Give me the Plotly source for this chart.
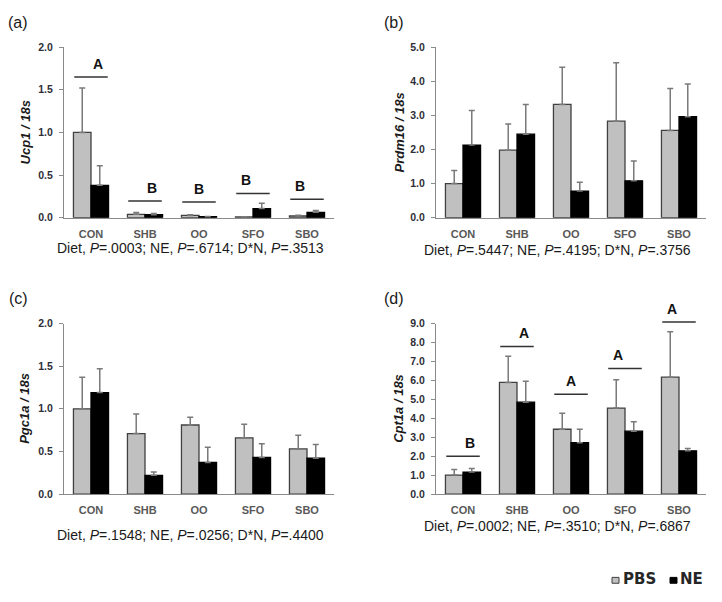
import plotly.graph_objects as go

W, H = 722, 602

categories = ["CON", "SHB", "OO", "SFO", "SBO"]

# Panel (a) Ucp1 / 18s
a_pbs = [1.00, 0.04, 0.027, 0.008, 0.02]
a_pbs_err = [0.52, 0.02, 0.008, 0.004, 0.01]
a_ne = [0.38, 0.035, 0.012, 0.107, 0.063]
a_ne_err = [0.23, 0.015, 0.003, 0.063, 0.022]
a_letters = ["A", "B", "B", "B", "B"]
a_letter_y = [1.65, 0.196, 0.184, 0.284, 0.215]

# Panel (b) Prdm16 / 18s
b_pbs = [1.00, 1.98, 3.32, 2.83, 2.56]
b_pbs_err = [0.38, 0.77, 1.09, 1.71, 1.23]
b_ne = [2.13, 2.45, 0.78, 1.08, 2.96]
b_ne_err = [1.01, 0.87, 0.26, 0.58, 0.96]

# Panel (c) Pgc1a / 18s
c_pbs = [1.00, 0.71, 0.81, 0.66, 0.53]
c_pbs_err = [0.37, 0.23, 0.09, 0.16, 0.16]
c_ne = [1.19, 0.22, 0.37, 0.43, 0.42]
c_ne_err = [0.28, 0.04, 0.18, 0.16, 0.16]

# Panel (d) Cpt1a / 18s
d_pbs = [1.00, 5.89, 3.42, 4.54, 6.17]
d_pbs_err = [0.30, 1.38, 0.85, 1.49, 2.40]
d_ne = [1.16, 4.85, 2.71, 3.32, 2.28]
d_ne_err = [0.19, 1.11, 0.71, 0.50, 0.12]
d_letters = ["B", "A", "A", "A", "A"]
d_letter_y = [2.0, 7.79, 5.27, 6.63, 9.08]

captions = [
    "Diet, <i>P</i>=.0003; NE, <i>P</i>=.6714; D*N, <i>P</i>=.3513",
    "Diet, <i>P</i>=.5447; NE, <i>P</i>=.4195; D*N, <i>P</i>=.3756",
    "Diet, <i>P</i>=.1548; NE, <i>P</i>=.0256; D*N, <i>P</i>=.4400",
    "Diet, <i>P</i>=.0002; NE, <i>P</i>=.3510; D*N, <i>P</i>=.6867",
]
ytitles = ["Ucp1 / 18s", "Prdm16 / 18s", "Pgc1a / 18s", "Cpt1a / 18s"]
panel_labels = ["(a)", "(b)", "(c)", "(d)"]
y_ranges = [[0, 2], [0, 5], [0, 2], [0, 9]]
y_dticks = [0.5, 1, 0.5, 1]

# ---- styling ----
FONT = "Liberation Sans, Arial, sans-serif"
LEG_FONT = "DejaVu Sans, sans-serif"
PBS_FILL = "#c0c0c0"
PBS_LINE = "#404040"
NE_FILL = "#000000"
ERR_COL = "#7a7a7a"
AXIS_COL = "#8a8a8a"
HALF_LINE = 0.31  # half length of letter-group line, in category units


def px_x(p):
    return p / W


def px_y(p):
    return 1 - p / H


x_domains = [[64 / W, 334 / W], [436 / W, 706 / W], [64 / W, 334 / W], [436 / W, 706 / W]]
y_domains = [[px_y(216), px_y(42)], [px_y(216), px_y(42)], [px_y(498), px_y(324)], [px_y(498), px_y(324)]]

panels = [
    (a_pbs, a_pbs_err, a_ne, a_ne_err),
    (b_pbs, b_pbs_err, b_ne, b_ne_err),
    (c_pbs, c_pbs_err, c_ne, c_ne_err),
    (d_pbs, d_pbs_err, d_ne, d_ne_err),
]

xs = list(range(len(categories)))
XR = [-0.5, len(categories) - 0.5]
fig = go.Figure()

for i, (pbs, pbs_e, ne, ne_e) in enumerate(panels):
    n = "" if i == 0 else str(i + 1)
    for vals, errs, fill, line, name in [
        (pbs, pbs_e, PBS_FILL, PBS_LINE, "PBS"),
        (ne, ne_e, NE_FILL, NE_FILL, "NE"),
    ]:
        fig.add_trace(go.Bar(
            x=xs, y=vals, name=name, showlegend=False,
            xaxis="x" + n, yaxis="y" + n,
            marker=dict(color=fill, line=dict(color=line, width=1.3)),
            error_y=dict(type="data", symmetric=False, array=errs,
                         arrayminus=[0] * len(errs), color=ERR_COL,
                         thickness=1.5, width=3),
        ))
    fig.layout["xaxis" + n] = dict(
        domain=x_domains[i], anchor="y" + n, range=XR,
        tickmode="array", tickvals=xs, ticktext=categories,
        showline=True, linecolor=AXIS_COL, linewidth=1.3,
        ticks="", showgrid=False, zeroline=False,
        ticklabelstandoff=6,
        tickfont=dict(family=FONT, size=11, color="#595959", weight="bold"),
    )
    fig.layout["yaxis" + n] = dict(
        domain=y_domains[i], anchor="x" + n, range=y_ranges[i],
        dtick=y_dticks[i], tick0=0, tickformat=".1f",
        showline=True, linecolor=AXIS_COL, linewidth=1.3,
        ticks="outside", ticklen=4, tickcolor=AXIS_COL, tickwidth=1.2,
        showgrid=False, zeroline=False, ticklabelstandoff=4,
        tickfont=dict(family=FONT, size=10.5, color="#2e2e38", weight="bold"),
    )

# letter groups with lines (domain refs so nothing gets clipped)
for i, (letters, ly) in [(0, (a_letters, a_letter_y)), (3, (d_letters, d_letter_y))]:
    n = "" if i == 0 else str(i + 1)
    ymax = y_ranges[i][1]
    span = XR[1] - XR[0]
    for k, (lt, yv) in enumerate(zip(letters, ly)):
        yf = yv / ymax
        fig.add_shape(
            type="line", xref="x%s domain" % n, yref="y%s domain" % n,
            x0=(k - HALF_LINE - XR[0]) / span, x1=(k + HALF_LINE - XR[0]) / span,
            y0=yf, y1=yf, line=dict(color="#333333", width=1.5),
        )
        fig.add_annotation(
            x=(k - XR[0]) / span, y=yf, xref="x%s domain" % n, yref="y%s domain" % n,
            text="<b>%s</b>" % lt,
            showarrow=False, yanchor="middle", yshift=13,
            font=dict(family=FONT, size=14, color="#111111"),
        )

# y titles
ytitle_pos = [(25, 129), (399, 129), (25, 411), (399, 411)]
for t, (xp, yp) in zip(ytitles, ytitle_pos):
    fig.add_annotation(
        x=px_x(xp), y=px_y(yp), xref="paper", yref="paper",
        text="<b><i>%s</i></b>" % t, textangle=-90, showarrow=False,
        xanchor="center", yanchor="middle",
        font=dict(family=FONT, size=13, color="#1a1a1a"),
    )

# captions
cap_pos = [(190, 247), (557, 249), (190, 540), (557, 531)]
for t, (xp, yp) in zip(captions, cap_pos):
    fig.add_annotation(
        x=px_x(xp), y=px_y(yp), xref="paper", yref="paper", text=t,
        showarrow=False, xanchor="center", yanchor="middle",
        font=dict(family=FONT, size=14, color="#1a1a1a"),
    )

# panel labels
lab_pos = [(6, 17), (382, 17), (7, 298), (382, 298)]
for t, (xp, yp) in zip(panel_labels, lab_pos):
    fig.add_annotation(
        x=px_x(xp), y=px_y(yp), xref="paper", yref="paper", text=t,
        showarrow=False, xanchor="left", yanchor="middle",
        font=dict(family=FONT, size=16, color="#1a1a1a"),
    )

# legend (manual)
leg_items = [("PBS", PBS_FILL, PBS_LINE, 612, 621), ("NE", NE_FILL, NE_FILL, 670, 678)]
for name, fill, line, sx, tx in leg_items:
    fig.add_shape(type="rect", xref="paper", yref="paper",
                  x0=px_x(sx), x1=px_x(sx + 7), y0=px_y(589), y1=px_y(583),
                  fillcolor=fill, line=dict(color=line, width=1))
    fig.add_annotation(
        x=px_x(tx), y=px_y(585), xref="paper", yref="paper", text=name,
        showarrow=False, xanchor="left", yanchor="middle",
        font=dict(family=LEG_FONT, size=15, color="#262626", weight="bold"),
    )

fig.update_layout(
    width=W, height=H, margin=dict(l=0, r=0, t=0, b=0),
    paper_bgcolor="white", plot_bgcolor="white",
    barmode="group", bargap=0.35, bargroupgap=0,
    showlegend=False,
)

fig.write_html(
    "out.html",
    config={"displayModeBar": False},
    post_script="document.body.style.margin='0';document.body.style.overflow='hidden';",
)
